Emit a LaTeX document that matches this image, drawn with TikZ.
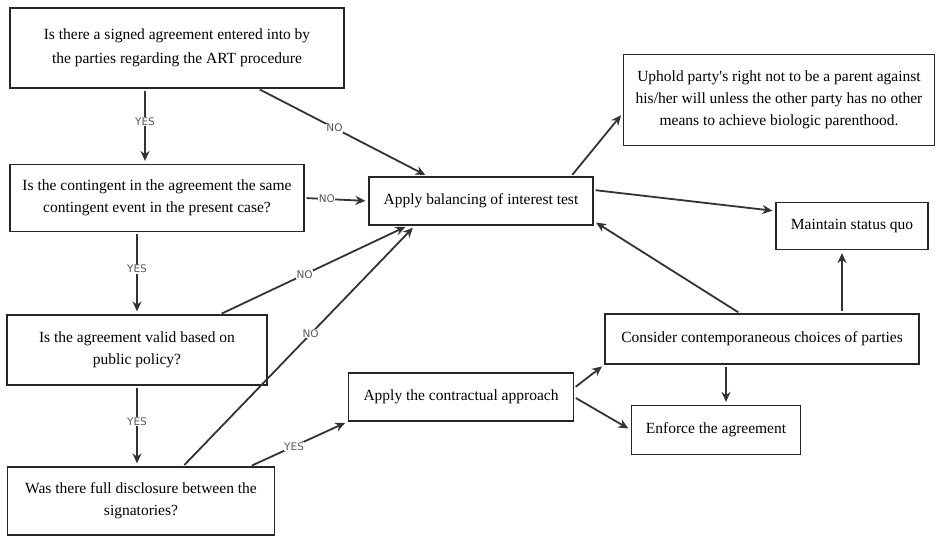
\documentclass[tikz,border=0pt]{standalone}
\usepackage{fontspec}
\setmainfont{Liberation Serif}
\newfontfamily\lblfont{DejaVu Sans}
\usetikzlibrary{arrows.meta}
\begin{document}
\begin{tikzpicture}[x=1pt,y=-1pt,
  box/.style={draw=black!85,line width=1.2pt,align=center,inner sep=2pt,
    font=\fontsize{15.5}{22}\selectfont},
  conn/.style={draw=black!80,line width=1.8pt,
    -{Stealth[length=10pt,width=9pt,fill=black!45]},shorten >=3pt,shorten <=2pt},
  lbl/.style={fill=white,inner sep=0.5pt,text=black!65,font=\lblfont\fontsize{10.5}{11}\selectfont}]
\useasboundingbox (0,0) rectangle (936,537);
\node[box,minimum width=334pt,minimum height=80pt,font=\fontsize{15.5}{24}\selectfont] (A) at (177,48)
  {Is there a signed agreement entered into by\\the parties regarding the ART procedure};
\node[box,minimum width=294pt,minimum height=67pt] (B) at (157,198)
  {Is the contingent in the agreement the same\\contingent event in the present case?};
\node[box,minimum width=224pt,minimum height=48pt] (bal) at (481,201)
  {Apply balancing of interest test};
\node[box,minimum width=311pt,minimum height=91pt] (up) at (779,100)
  {Uphold party\textquotesingle s right not to be a parent against\\his/her will unless the other party has no other\\means to achieve biologic parenthood.};
\node[box,minimum width=152pt,minimum height=47pt] (mq) at (852,226)
  {Maintain status quo};
\node[box,minimum width=260pt,minimum height=70pt] (C) at (137,350)
  {Is the agreement valid based on\\public policy?};
\node[box,minimum width=267pt,minimum height=68pt] (D) at (141,501)
  {Was there full disclosure between the\\signatories?};
\node[box,minimum width=225pt,minimum height=48pt] (ct) at (461,397)
  {Apply the contractual approach};
\node[box,minimum width=314pt,minimum height=50pt] (cs) at (762,339)
  {Consider contemporaneous choices of parties};
\node[box,minimum width=169pt,minimum height=49pt] (ef) at (716,430)
  {Enforce the agreement};

\draw[conn] ([xshift=-32pt]A.south) -- node[lbl,pos=0.44]{YES} ([xshift=-12pt]B.north);
\draw[conn] ([xshift=81pt]A.south) -- node[lbl,pos=0.45]{NO} ([xshift=-53pt]bal.north);
\draw[conn] (B.east) -- node[lbl,pos=0.35]{NO} (bal.west);
\draw[conn] ([xshift=-20pt]B.south) -- node[lbl,pos=0.45]{YES} (C.north);
\draw[conn] ([xshift=83pt]C.north) -- node[lbl,pos=0.45]{NO} ([xshift=-73pt]bal.south);
\draw[conn] ([xshift=42pt]D.north) -- node[lbl,pos=0.55]{NO} ([xshift=-66pt]bal.south);
\draw[conn] (C.south) -- node[lbl,pos=0.45]{YES} ([xshift=-4pt]D.north);
\draw[conn] ([xshift=109pt]D.north) -- node[lbl,pos=0.45]{YES} (ct.south west);
\draw[conn] ([xshift=90pt]bal.north) -- ([yshift=-13pt]up.west);
\draw[conn] ([yshift=11pt]bal.east) -- ([yshift=15pt]mq.west);
\draw[conn] ([xshift=-22pt]cs.north) -- ([yshift=-20pt]bal.east);
\draw[conn] ([xshift=80pt]cs.north) -- ([xshift=-10pt]mq.south);
\draw[conn] ([xshift=-36pt]cs.south) -- ([xshift=10pt]ef.north);
\draw[conn] ([yshift=9pt]ct.east) -- (cs.south west);
\draw[conn] (ct.east) -- (ef.west);
\end{tikzpicture}
\end{document}
